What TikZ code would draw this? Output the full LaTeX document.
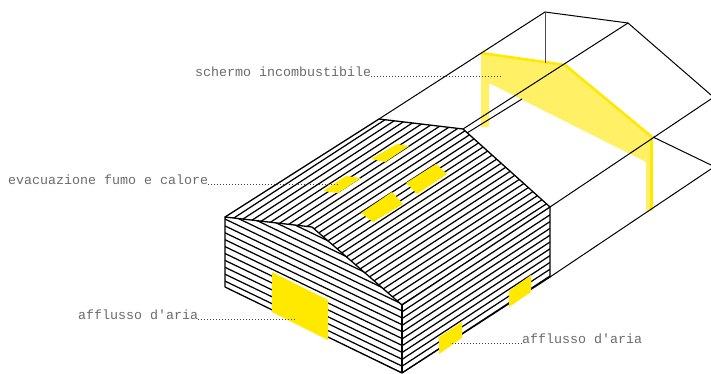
\documentclass[tikz,border=0pt]{standalone}
\usepackage{fontspec}
\setmonofont{Liberation Mono}
\definecolor{signyellow}{HTML}{FFE900}
\definecolor{screenyellow}{HTML}{FFF066}
\begin{document}
\begin{tikzpicture}[
  x=1pt, y=-1pt,
  % ---- styles ----
  edge/.style = {draw=black, line width=1.3pt, line join=round},
  wire/.style = {draw=black, line width=1pt},
  hatchline/.style = {draw=black, line width=1.25pt},
  patch/.style = {fill=signyellow, draw=none},
  leader/.style = {draw=black!75, line width=1pt, dash pattern=on 1pt off 2pt},
  caption/.style = {font=\fontsize{13.33}{15}\selectfont\ttfamily, text=black!58, inner sep=0pt}
]
\useasboundingbox (0,0) rectangle (711,373);

% ============ CORNERS ============

\coordinate (eaveA) at (225,217);
\coordinate (eaveB) at (379,119);
\coordinate (ridgeA) at (312,227);
\coordinate (ridgeB) at (463,129);
\coordinate (cornerTop) at (402,305);
\coordinate (cornerLow) at (402,373);
\coordinate (sideTop) at (550,207);
\coordinate (sideLow) at (550,277);
\coordinate (footA) at (225,287);
\coordinate (backA) at (545,12);
\coordinate (backB) at (628,23);
\coordinate (backFoot) at (545,63);
\coordinate (exitA) at (711,95);
\coordinate (exitB) at (711,99);
\coordinate (exitC) at (711,165);
\coordinate (exitD) at (711,169);
\coordinate (frameB) at (653,137);
\coordinate (innerA) at (467,133);
\coordinate (innerB) at (522,99);

% ============ HATCHING ============

% --- roof ---
\begin{scope}
  \clip (eaveA) -- (eaveB) -- (ridgeB) -- (sideTop) -- (cornerTop) -- (ridgeA) -- cycle;
  \foreach \k in {0,...,29} {
    \draw[hatchline] (200,363+7*\k-130) -- (600,363+7*\k-390);
  }
\end{scope}

% --- gable wall ---
\begin{scope}
  \clip (eaveA) -- (ridgeA) -- (cornerTop) -- (cornerLow) -- (footA) -- cycle;
  \foreach \k in {-5,...,10} {
    \draw[hatchline] (225,219+6.9*\k) -- (402,304+6.9*\k);
  }
\end{scope}

% --- side wall ---
\begin{scope}
  \clip (cornerTop) -- (sideTop) -- (sideLow) -- (cornerLow) -- cycle;
  \foreach \k in {1,...,10} {
    \draw[hatchline] (402,305+6.8*\k) -- (550,208+6.8*\k);
  }
\end{scope}

% ============ SCREEN ============

\fill[screenyellow, rounded corners=1pt] (481,52) -- (565,64) -- (653,137) -- (653,211)
  -- (646,211) -- (646,162) -- (489,83) -- (489,127) -- (481,127) -- cycle;
\draw[signyellow, line width=2.6pt, line join=round] (481,53) -- (565,65) -- (652,137);
\draw[signyellow, line width=3pt] (651,137) -- (651,209);

% ============ FRAME ============

\draw[wire] (eaveB) -- (backA) -- (backB) -- (exitA);
\draw[wire] (ridgeB) -- (backB);
\draw[wire] (sideTop) -- (exitB);
\draw[wire] (sideLow) -- (exitD);
\draw[wire] (frameB) -- (exitC);
\draw[wire] (innerA) -- (innerB);
\draw[draw=black!70, line width=1pt] (backA) -- (backFoot);

% ============ BUILDING OUTLINE ============

\draw[edge] (footA) -- (eaveA) -- (ridgeA) -- (cornerTop);
\draw[edge] (eaveA) -- (eaveB) -- (ridgeB) -- (sideTop) -- (sideLow) -- (cornerLow) -- (footA);
\draw[edge] (cornerTop) -- (cornerLow);
\draw[edge] (cornerTop) -- (sideTop);

% ============ OPENINGS ============

\fill[patch] (371,159) -- (397,144) -- (409,146) -- (385,162) -- cycle;
\fill[patch] (323,191) -- (346,176) -- (361,178) -- (338,193) -- cycle;
\fill[patch] (406,183) -- (436,164) -- (447,174) -- (417,194) -- cycle;
\fill[patch] (361,213) -- (392,192) -- (403,204) -- (373,222) -- cycle;
\fill[patch] (272,272) -- (328,300) -- (328,340) -- (272,312) -- cycle;
\fill[patch] (439,337) -- (462,322) -- (462,338) -- (439,354) -- cycle;
\fill[patch] (509,291) -- (531,275) -- (531,292) -- (509,307) -- cycle;

% ============ LABELS ============

\node[caption, anchor=base west] (screenlabel) at (195,76) {schermo incombustibile};
\node[caption, anchor=base west] (smokelabel) at (8,184) {evacuazione fumo e calore};
\node[caption, anchor=base west] (airlabelA) at (78,319) {afflusso d'aria};
\node[caption, anchor=base west] (airlabelB) at (522,343) {afflusso d'aria};

\coordinate (screenend) at (502,76);
\coordinate (smokeend) at (340,184);
\coordinate (airendA) at (297,319);
\coordinate (airendB) at (450,343);

\draw[leader] (screenlabel.base east) -- (screenend);
\draw[leader] (smokelabel.base east) -- (smokeend);
\draw[leader] (airlabelA.base east) -- (airendA);
\draw[leader] (airlabelB.base west) -- (airendB);

\end{tikzpicture}
\end{document}
